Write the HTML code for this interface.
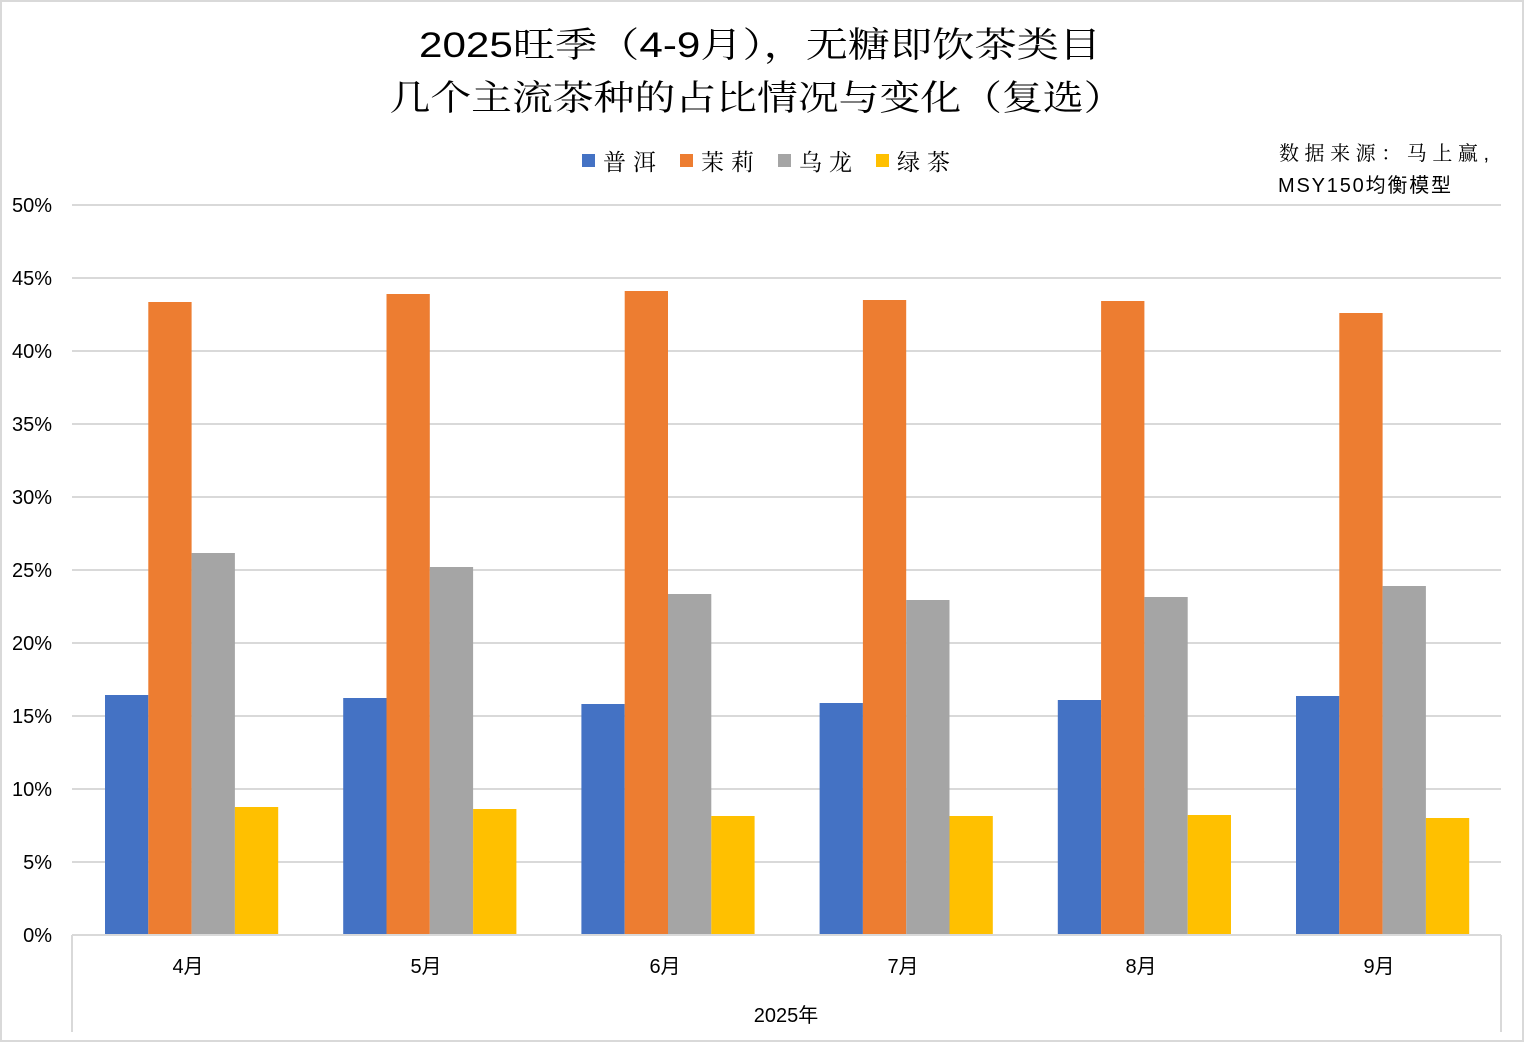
<!DOCTYPE html>
<html><head><meta charset="utf-8"><style>
html,body{margin:0;padding:0;background:#fff;}
svg{display:block;}
.t{font-family:"Liberation Sans","Noto Serif CJK SC",serif;fill:#000;}
.s{font-family:"Liberation Sans","Noto Sans CJK SC",sans-serif;fill:#000;}
</style></head><body>
<svg width="1525" height="1043" viewBox="0 0 1525 1043" xmlns="http://www.w3.org/2000/svg">
<rect x="1" y="1" width="1522" height="1040" fill="#fff" stroke="#d9d9d9" stroke-width="2"/>
<text class="t" x="760" y="57" font-size="35" text-anchor="middle" textLength="682" lengthAdjust="spacingAndGlyphs">2025旺季（4-9月），无糖即饮茶类目</text>
<text class="t" x="757" y="110" font-size="35" text-anchor="middle" textLength="735" lengthAdjust="spacingAndGlyphs">几个主流茶种的占比情况与变化（复选）</text>
<g font-size="23">
<rect x="582" y="154" width="13" height="13" fill="#4472c4"/><text class="t" x="603" y="170" textLength="53" lengthAdjust="spacing">普洱</text>
<rect x="680" y="154" width="13" height="13" fill="#ed7d31"/><text class="t" x="701" y="170" textLength="53" lengthAdjust="spacing">茉莉</text>
<rect x="778" y="154" width="13" height="13" fill="#a5a5a5"/><text class="t" x="799" y="170" textLength="53" lengthAdjust="spacing">乌龙</text>
<rect x="876" y="154" width="13" height="13" fill="#ffc000"/><text class="t" x="897" y="170" textLength="53" lengthAdjust="spacing">绿茶</text>
</g>
<text class="t" x="1279" y="160" font-size="20" textLength="210" lengthAdjust="spacing">数据来源：马上赢,</text>
<text class="s" x="1278" y="192" font-size="20" textLength="173" lengthAdjust="spacing">MSY150均衡模型</text>
<g stroke="#d9d9d9" stroke-width="2">
<line x1="72" x2="1501" y1="205" y2="205"/>
<line x1="72" x2="1501" y1="278" y2="278"/>
<line x1="72" x2="1501" y1="351" y2="351"/>
<line x1="72" x2="1501" y1="424" y2="424"/>
<line x1="72" x2="1501" y1="497" y2="497"/>
<line x1="72" x2="1501" y1="570" y2="570"/>
<line x1="72" x2="1501" y1="643" y2="643"/>
<line x1="72" x2="1501" y1="716" y2="716"/>
<line x1="72" x2="1501" y1="789" y2="789"/>
<line x1="72" x2="1501" y1="862" y2="862"/>
</g>
<g font-size="20" class="s" text-anchor="end">
<text class="s" x="52" y="212">50%</text>
<text class="s" x="52" y="285">45%</text>
<text class="s" x="52" y="358">40%</text>
<text class="s" x="52" y="431">35%</text>
<text class="s" x="52" y="504">30%</text>
<text class="s" x="52" y="577">25%</text>
<text class="s" x="52" y="650">20%</text>
<text class="s" x="52" y="723">15%</text>
<text class="s" x="52" y="796">10%</text>
<text class="s" x="52" y="869">5%</text>
<text class="s" x="52" y="942">0%</text>
</g>
<g>
<rect x="105" y="695" width="43.3" height="240" fill="#4472c4"/>
<rect x="148.3" y="302" width="43.3" height="633" fill="#ed7d31"/>
<rect x="191.6" y="553" width="43.3" height="382" fill="#a5a5a5"/>
<rect x="234.9" y="807" width="43.3" height="128" fill="#ffc000"/>

<rect x="343.2" y="698" width="43.3" height="237" fill="#4472c4"/>
<rect x="386.5" y="294" width="43.3" height="641" fill="#ed7d31"/>
<rect x="429.8" y="567" width="43.3" height="368" fill="#a5a5a5"/>
<rect x="473.1" y="809" width="43.3" height="126" fill="#ffc000"/>

<rect x="581.4" y="704" width="43.3" height="231" fill="#4472c4"/>
<rect x="624.7" y="291" width="43.3" height="644" fill="#ed7d31"/>
<rect x="668" y="594" width="43.3" height="341" fill="#a5a5a5"/>
<rect x="711.3" y="816" width="43.3" height="119" fill="#ffc000"/>

<rect x="819.6" y="703" width="43.3" height="232" fill="#4472c4"/>
<rect x="862.9" y="300" width="43.3" height="635" fill="#ed7d31"/>
<rect x="906.2" y="600" width="43.3" height="335" fill="#a5a5a5"/>
<rect x="949.5" y="816" width="43.3" height="119" fill="#ffc000"/>

<rect x="1057.8" y="700" width="43.3" height="235" fill="#4472c4"/>
<rect x="1101.1" y="301" width="43.3" height="634" fill="#ed7d31"/>
<rect x="1144.4" y="597" width="43.3" height="338" fill="#a5a5a5"/>
<rect x="1187.7" y="815" width="43.3" height="120" fill="#ffc000"/>

<rect x="1296" y="696" width="43.3" height="239" fill="#4472c4"/>
<rect x="1339.3" y="313" width="43.3" height="622" fill="#ed7d31"/>
<rect x="1382.6" y="586" width="43.3" height="349" fill="#a5a5a5"/>
<rect x="1425.9" y="818" width="43.3" height="117" fill="#ffc000"/>
</g>
<g stroke="#d9d9d9" stroke-width="2">
<line x1="72" x2="1501" y1="935" y2="935"/>
<line x1="72" x2="72" y1="935" y2="1032"/>
<line x1="1501" x2="1501" y1="935" y2="1032"/>
</g>
<g font-size="20" text-anchor="middle">
<text class="s" x="188" y="973">4月</text>
<text class="s" x="426" y="973">5月</text>
<text class="s" x="665" y="973">6月</text>
<text class="s" x="903" y="973">7月</text>
<text class="s" x="1141" y="973">8月</text>
<text class="s" x="1379" y="973">9月</text>
<text class="s" x="786" y="1022">2025年</text>
</g>
</svg>
</body></html>
